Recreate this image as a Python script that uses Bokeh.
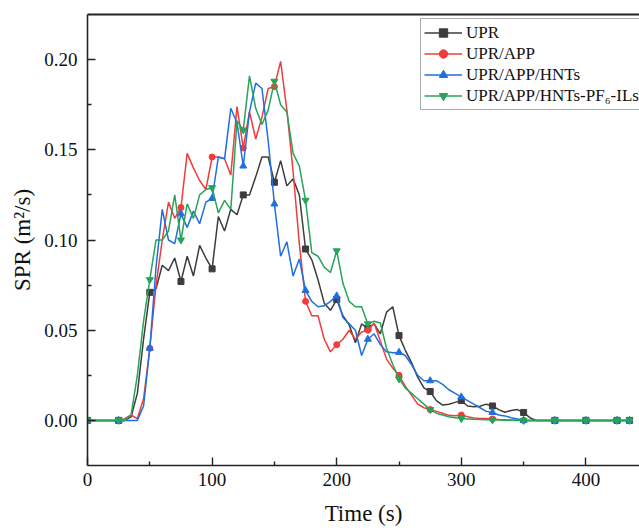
from bokeh.plotting import figure
from bokeh.models import Range1d, LinearAxis, FixedTicker, NumeralTickFormatter, Legend, LegendItem
from bokeh.embed import file_html
from bokeh.resources import INLINE

# ---- data (SPR in m2/s, sampled every 5 s) ----
time_s = list(range(0, 440, 5))

upr = [0, 0, 0, 0, 0, 0, 0, 0.002, 0.015, 0.045,
       0.071, 0.073, 0.086, 0.083, 0.090, 0.077, 0.091, 0.080, 0.097, 0.090,
       0.084, 0.113, 0.105, 0.117, 0.114, 0.125, 0.125, 0.135, 0.146, 0.146,
       0.132, 0.144, 0.130, 0.134, 0.125, 0.095, 0.089, 0.078, 0.065, 0.061,
       0.067, 0.058, 0.053, 0.043, 0.0535, 0.051, 0.0535, 0.048, 0.060, 0.063,
       0.047, 0.039, 0.032, 0.024, 0.018, 0.016, 0.011, 0.0085, 0.009, 0.010,
       0.011, 0.008, 0.0076, 0.0078, 0.009, 0.008, 0.006, 0.0045, 0.0055, 0.006,
       0.0044, 0.0015, 0, 0, 0, 0, 0, 0, 0, 0,
       0, 0, 0, 0, 0, 0, 0, 0]

upr_app = [0, 0, 0, 0, 0, 0, 0.001, 0.003, 0.001, 0.012,
           0.040, 0.075, 0.100, 0.121, 0.112, 0.118, 0.148, 0.140, 0.133, 0.128,
           0.146, 0.146, 0.145, 0.136, 0.174, 0.151, 0.171, 0.156, 0.168, 0.184,
           0.185, 0.199, 0.172, 0.138, 0.098, 0.066, 0.058, 0.058, 0.045, 0.038,
           0.042, 0.045, 0.050, 0.045, 0.049, 0.050, 0.054, 0.044, 0.034, 0.029,
           0.025, 0.019, 0.014, 0.009, 0.007, 0.006, 0.005, 0.004, 0.0028, 0.0026,
           0.003, 0.002, 0.0013, 0.001, 0.001, 0.0008, 0.0005, 0.0003, 0.0002, 0.0001,
           0, 0, 0, 0, 0, 0, 0, 0, 0, 0,
           0, 0, 0, 0, 0, 0, 0, 0]

upr_app_hnts = [0, 0, 0, 0, 0, 0, 0, 0, 0, 0.008,
                0.040, 0.085, 0.117, 0.100, 0.098, 0.1145, 0.107, 0.116, 0.109, 0.121,
                0.123, 0.146, 0.145, 0.173, 0.165, 0.141, 0.171, 0.187, 0.184, 0.155,
                0.120, 0.091, 0.099, 0.080, 0.0895, 0.072, 0.066, 0.063, 0.0635, 0.066,
                0.069, 0.057, 0.0535, 0.050, 0.036, 0.045, 0.048, 0.042, 0.038, 0.0375,
                0.0377, 0.036, 0.031, 0.025, 0.022, 0.022, 0.022, 0.020, 0.017, 0.015,
                0.013, 0.011, 0.009, 0.007, 0.005, 0.0044, 0.003, 0.0025, 0.0015, 0.0008,
                0, 0, 0, 0, 0, 0, 0, 0, 0, 0,
                0, 0, 0, 0, 0, 0, 0, 0]

upr_app_hnts_ils = [0, 0, 0, 0, 0, 0, 0, 0.003, 0.025, 0.055,
                    0.078, 0.100, 0.100, 0.105, 0.125, 0.100, 0.120, 0.112, 0.125, 0.128,
                    0.129, 0.115, 0.122, 0.117, 0.166, 0.161, 0.191, 0.173, 0.164, 0.172,
                    0.188, 0.175, 0.171, 0.148, 0.141, 0.122, 0.093, 0.091, 0.085, 0.082,
                    0.094, 0.076, 0.066, 0.063, 0.063, 0.0535, 0.055, 0.054, 0.040, 0.031,
                    0.023, 0.018, 0.015, 0.012, 0.009, 0.006, 0.004, 0.003, 0.002, 0.0015,
                    0.001, 0.0008, 0.0006, 0.0005, 0.0004, 0.0003, 0.0002, 0.0001, 0.0001, 0,
                    0, 0, 0, 0, 0, 0, 0, 0, 0, 0,
                    0, 0, 0, 0, 0, 0, 0, 0]

series_names = ["UPR", "UPR/APP", "UPR/APP/HNTs", "UPR/APP/HNTs-PF\u2086-ILs"]
x_ticks = [0, 100, 200, 300, 400]
x_minor = [50, 150, 250, 350]
y_ticks = [0.00, 0.05, 0.10, 0.15, 0.20]
y_minor = [0.025, 0.075, 0.125, 0.175]

FONT = "Liberation Serif"

p = figure(width=639, height=528, output_backend="svg", toolbar_location=None,
           x_range=Range1d(0, 443), y_range=Range1d(-0.025, 0.225),
           min_border_left=87, min_border_right=0, min_border_top=14, min_border_bottom=63,
           x_axis_location=None, y_axis_location=None)
p.outline_line_color = None
p.xgrid.visible = False
p.ygrid.visible = False
p.background_fill_color = "white"
p.border_fill_color = "white"

def style_axis(ax):
    ax.axis_line_color = "#222222"
    ax.axis_line_width = 1.6
    ax.major_tick_line_color = "#222222"
    ax.minor_tick_line_color = "#222222"
    ax.major_tick_line_width = 1.4
    ax.minor_tick_line_width = 1.4
    ax.major_tick_in = 8
    ax.major_tick_out = 0
    ax.minor_tick_in = 4
    ax.minor_tick_out = 0
    ax.major_label_text_font = FONT
    ax.major_label_text_font_size = "19px"
    ax.major_label_text_color = "#111111"
    ax.axis_label_text_font = FONT
    ax.axis_label_text_font_size = "23px"
    ax.axis_label_text_font_style = "normal"
    ax.axis_label_text_color = "#111111"

xaxis = LinearAxis(ticker=FixedTicker(ticks=x_ticks, minor_ticks=x_minor), axis_label="Time (s)")
style_axis(xaxis)
xaxis.major_label_standoff = 7
xaxis.axis_label_standoff = 12
p.add_layout(xaxis, "below")

yaxis = LinearAxis(ticker=FixedTicker(ticks=y_ticks, minor_ticks=y_minor),
                   formatter=NumeralTickFormatter(format="0.00"),
                   axis_label="SPR (m\u00b2/s)")
style_axis(yaxis)
yaxis.major_label_standoff = 10
yaxis.axis_label_standoff = 6
p.add_layout(yaxis, "left")

top_axis = LinearAxis(ticker=FixedTicker(ticks=[]), major_label_text_font_size="0px")
top_axis.axis_line_color = "#222222"
top_axis.axis_line_width = 1.8
top_axis.major_tick_in = 0
top_axis.major_tick_out = 0
top_axis.minor_tick_in = 0
top_axis.minor_tick_out = 0
p.add_layout(top_axis, "above")

colors = ["#3d3d3d", "#f23b3b", "#1f6fe0", "#27a35a"]
markers = ["square", "circle", "triangle", "inverted_triangle"]
sizes = [6, 6, 7, 7]
all_series = [upr, upr_app, upr_app_hnts, upr_app_hnts_ils]

items = []
for name, vals, c, m, s in zip(series_names, all_series, colors, markers, sizes):
    ln = p.line(time_s, vals, line_color=c, line_width=1.5)
    mx = time_s[::5] + [time_s[-1]]
    my = vals[::5] + [vals[-1]]
    sc = p.scatter(mx, my, marker=m, size=s, fill_color=c, line_color=c)
    items.append(LegendItem(label=name, renderers=[ln, sc]))

legend = Legend(items=items, location=(333, 355), orientation="vertical")
legend.label_text_font = FONT
legend.label_text_font_size = "17px"
legend.label_text_color = "#111111"
legend.glyph_width = 38
legend.glyph_height = 21
legend.label_height = 21
legend.label_standoff = 4
legend.spacing = 0
legend.padding = 3
legend.margin = 0
legend.border_line_color = "#555555"
legend.border_line_width = 1.2
legend.background_fill_alpha = 1
p.add_layout(legend, "center")

open("out.html", "w").write(file_html(p, INLINE))
